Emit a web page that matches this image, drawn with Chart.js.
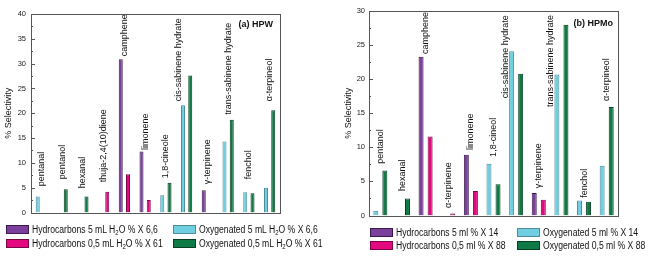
<!DOCTYPE html>
<html lang="en">
<head>
<meta charset="UTF-8">
<title>Selectivity HPW / HPMo</title>
<script src="https://cdn.jsdelivr.net/npm/chart.js"></script>
<style>
    body {
        margin: 0;
        background: #ffffff;
        width: 662px;
        height: 258px;
        overflow: hidden;
        position: relative;
        font-family: "Liberation Sans", Arial, sans-serif;
    }
    canvas { position: absolute; top: 0; }
    #chart-a { left: 0; }
    #chart-b { left: 330px; }
    .legend {
        position: absolute;
        display: grid;
        font-size: 10px;
        color: #111;
    }
    #legend-a { left: 6px; top: 222px; grid-template-columns: 167px 160px; grid-auto-rows: 14px; }
    #legend-b { left: 370px; top: 226px; grid-template-columns: 147px 145px; grid-auto-rows: 13px; }
    .item { display: flex; align-items: center; white-space: nowrap; }
    .sw { flex: none; width: 23px; height: 9px; border: 1px solid; box-sizing: border-box; margin-right: 3px; }
    .txt { display: inline-block; transform: scaleX(0.86); transform-origin: left center; }
    sub { font-size: 7px; vertical-align: -2px; line-height: 0; }
</style>
</head>
<body>
<canvas id="chart-a" width="330" height="222"></canvas>
<canvas id="chart-b" width="332" height="224"></canvas>
<div class="legend" id="legend-a"></div>
<div class="legend" id="legend-b"></div>

<script>
// (a) HPW
const labelsA = ['pentanal', 'pentanol', 'hexanal', 'thuja-2,4(10)diene', 'camphene', 'limonene',
    '1,8-cineole', 'cis-sabinene hydrate', 'γ-terpinene', 'trans-sabinene hydrate', 'fenchol', 'α-terpineol'];
const hc5A  = [null, null, null, null, 30.9, 12.3, null, null, 4.5, null, null, null];
const hc05A = [null, null, null, 4.2, 7.7, 2.5, null, null, null, null, null, null];
const ox5A  = [3.2, null, null, null, null, null, 3.5, 21.6, null, 14.3, 4.1, 5.0];
const ox05A = [null, 4.7, 3.2, null, null, null, 6.0, 27.6, null, 18.7, 3.9, 20.6];
// height (% selectivity) where each compound name starts
const nameAtA = [5.3, 6.7, 4.9, 6.1, 31.5, 12.6, 6.9, 22.4, 5.7, 19.7, 6.7, 22.4];
const seriesA = ['Hydrocarbons 5 mL H₂O % X 6,6', 'Hydrocarbons 0,5 mL H₂O % X 61',
    'Oxygenated 5 mL H₂O % X 6,6', 'Oxygenated 0,5 mL H₂O % X 61'];

// (b) HPMo
const labelsB = ['pentanol', 'hexanal', 'camphene', 'α-terpinene', 'limonene', '1,8-cineol',
    'cis-sabinene hydrate', 'γ-terpinene', 'trans-sabinene hydrate', 'fenchol', 'α-terpineol'];
const hc5B  = [null, null, 23.3, null, 8.9, null, null, 3.3, null, null, null];
const hc05B = [null, null, 11.6, 0.3, 3.6, null, null, 2.3, null, null, null];
const ox5B  = [0.7, null, null, null, null, 7.6, 24.1, null, 20.7, 2.2, 7.3];
const ox05B = [6.6, 2.5, null, null, null, 4.6, 20.8, null, 28.0, 2.0, 15.9];
const nameAtB = [7.6, 3.6, 23.7, 1.1, 9.6, 8.6, 17.2, 4.0, 15.9, 2.6, 16.8];
const seriesB = ['Hydrocarbons 5 ml % X 14', 'Hydrocarbons 0,5 ml % X 88',
    'Oxygenated 5 ml % X 14', 'Oxygenated 0,5 ml % X 88'];

const fills   = ['#7b3f9c', '#e4087f', '#6fcfe0', '#0f7a45'];
const borders = ['#3a1a4e', '#7a0645', '#4f8c99', '#063f22'];
const stacks  = ['left', 'right', 'left', 'right'];   // hydrocarbons 5 / oxygenated 5 share a slot

Chart.defaults.font.family = '"Liberation Sans", Arial, sans-serif';
Chart.defaults.color = '#222';

// frame, inward ticks, compound names above the bars and the panel title
const framePlugin = {
    id: 'frame',
    afterDatasetsDraw(chart, args, opts) {
        const { ctx, chartArea: a, scales: { x, y } } = chart;
        ctx.save();
        ctx.strokeStyle = '#555';
        ctx.lineWidth = 1;
        ctx.strokeRect(Math.round(a.left) + 0.5, Math.round(a.top) + 0.5,
            Math.round(a.right - a.left), Math.round(a.bottom - a.top));

        for (let v = y.min; v <= y.max; v += 2.5) {
            const py = Math.round(y.getPixelForValue(v)) + 0.5;
            const len = v % 5 === 0 ? 4 : 2;
            ctx.beginPath();
            ctx.moveTo(a.left, py);
            ctx.lineTo(a.left + len, py);
            ctx.stroke();
        }

        // one slot width inside a category group
        const slot = (x.getPixelForValue(1) - x.getPixelForValue(0)) * opts.catPct / 2;
        ctx.fillStyle = '#111';
        ctx.font = '9px "Liberation Sans", Arial, sans-serif';
        ctx.textAlign = 'left';
        ctx.textBaseline = 'middle';
        x.getLabels().forEach((name, i) => {
            const top = Math.max(...chart.data.datasets.map(d => d.data[i] ?? 0));
            const at = opts.nameAt[i];
            // names that sit lower than the tallest bar go beside the group
            const px = x.getPixelForValue(i) - (at < top ? slot * 1.15 : 0);
            const py = y.getPixelForValue(at);
            ctx.save();
            ctx.translate(px, py);
            ctx.rotate(-Math.PI / 2);
            ctx.fillText(name, 0, 0);
            ctx.restore();
        });

        ctx.font = 'bold 9px "Liberation Sans", Arial, sans-serif';
        ctx.textAlign = 'right';
        ctx.fillText(opts.title, a.right - opts.inset, a.top + opts.drop);
        ctx.restore();
    }
};

function makeChart(id, labels, values, names, nameAt, cfg) {
    const datasets = values.map((vals, i) => ({
        label: names[i],
        data: vals,
        stack: stacks[i],
        backgroundColor: fills[i],
        borderColor: borders[i],
        borderWidth: 1
    }));

    new Chart(document.getElementById(id), {
        type: 'bar',
        data: { labels: labels, datasets: datasets },
        options: {
            responsive: false,
            animation: false,
            layout: { padding: cfg.padding },
            datasets: { bar: { categoryPercentage: cfg.catPct, barPercentage: 0.55 } },
            plugins: {
                legend: { display: false },
                tooltip: { enabled: false },
                frame: { title: cfg.title, inset: cfg.inset, drop: cfg.drop, nameAt: nameAt, catPct: cfg.catPct }
            },
            scales: {
                x: { display: false, stacked: true },
                y: {
                    stacked: true,
                    min: 0,
                    max: cfg.max,
                    afterFit: s => { s.width = cfg.axisWidth; },
                    ticks: { stepSize: 5, padding: cfg.tickPad, color: '#222', font: { size: 7.5 } },
                    grid: { display: false, drawTicks: false },
                    border: { display: false },
                    title: {
                        display: true,
                        text: '% Selectivity',
                        color: '#111',
                        font: { size: 9 },
                        padding: { top: 3, bottom: 0 }
                    }
                }
            }
        },
        plugins: [framePlugin]
    });

    // two-column legend: row 1 = 5 mL series, row 2 = 0,5 mL series
    const box = document.getElementById(cfg.legend);
    [0, 2, 1, 3].forEach(i => {
        const item = document.createElement('div');
        item.className = 'item';
        item.innerHTML = `<span class="sw" style="background:${fills[i]};border-color:${borders[i]}"></span>` +
            `<span class="txt">${names[i].replace('H₂O', 'H<sub>2</sub>O')}</span>`;
        box.appendChild(item);
    });
}

makeChart('chart-a', labelsA, [hc5A, hc05A, ox5A, ox05A], seriesA, nameAtA, {
    padding: { top: 14, right: 50, bottom: 5, left: 0 },
    axisWidth: 31, tickPad: 5, max: 40, catPct: 0.7,
    title: '(a) HPW', inset: 7, drop: 11, legend: 'legend-a'
});

makeChart('chart-b', labelsB, [hc5B, hc05B, ox5B, ox05B], seriesB, nameAtB, {
    padding: { top: 11, right: 44, bottom: 4, left: 10 },
    axisWidth: 29, tickPad: 4, max: 30, catPct: 0.8,
    title: '(b) HPMo', inset: 5, drop: 13, legend: 'legend-b'
});
</script>
</body>
</html>
